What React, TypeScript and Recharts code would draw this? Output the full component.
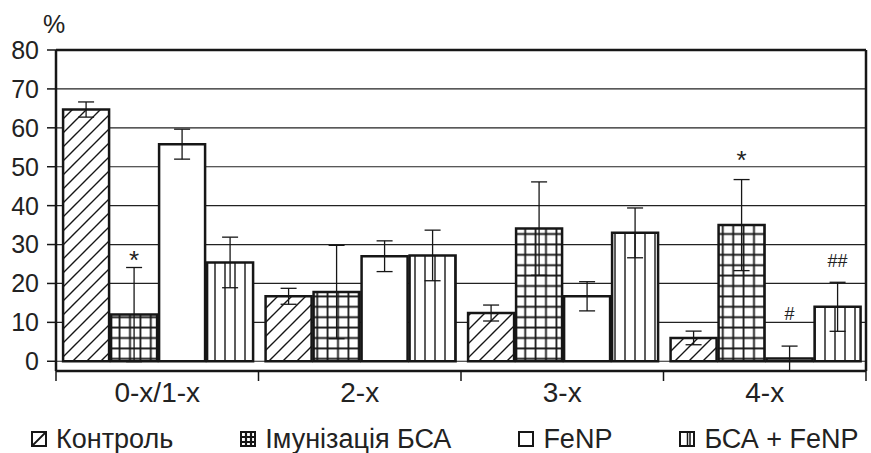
import React from 'react';
import { BarChart, Bar, XAxis, YAxis, CartesianGrid, ErrorBar, Legend, ReferenceLine } from 'recharts';

const categories = ['0-х/1-х', '2-х', '3-х', '4-х'];
const yTicks = [0, 10, 20, 30, 40, 50, 60, 70, 80];

const control = [64.7, 16.7, 12.4, 6.0];
const controlErr = [1.95, 2.05, 2.05, 1.75];
const immunization = [12.0, 17.8, 34.1, 35.0];
const immunizationErr = [12.1, 12.0, 12.0, 11.7];
const fenp = [55.8, 27.0, 16.7, 0.7];
const fenpErr = [3.85, 3.95, 3.75, 3.2];
const bsaFenp = [25.4, 27.2, 33.0, 14.0];
const bsaFenpErr = [6.5, 6.5, 6.4, 6.3];

// significance marks and the level (in %) where their baseline sits
const immunizationMarks = ['*', '', '', '*'];
const immunizationMarkLevels = [23.7, 0, 0, 49.5];
const fenpMarks = ['', '', '', '#'];
const fenpMarkLevels = [0, 0, 0, 10.7];
const bsaFenpMarks = ['', '', '', '##'];
const bsaFenpMarkLevels = [0, 0, 0, 24.2];

const data = categories.map((category, i) => ({
  category,
  control: control[i],
  controlErr: controlErr[i],
  immunization: immunization[i],
  immunizationErr: immunizationErr[i],
  fenp: fenp[i],
  fenpErr: fenpErr[i],
  bsaFenp: bsaFenp[i],
  bsaFenpErr: bsaFenpErr[i],
}));

const INK = '#161616';

const legendItems = [
  { name: 'Контроль', icon: 'hatch' },
  { name: 'Імунізація БСА', icon: 'grid' },
  { name: 'FeNP', icon: 'empty' },
  { name: 'БСА + FeNP', icon: 'vert' },
];

function markLabel(values: number[], marks: string[], levels: number[], fontSize: number) {
  return (props: any) => {
    const box = { ...props, ...(props.viewBox || {}) };
    const { x, y, width, height } = box;
    const index = props.index;
    const mark = marks[index];
    if (!mark) return null;
    const base = y + height;
    const perUnit = height / values[index];
    return (
      <text
        key={`m-${index}`}
        x={x + width / 2}
        y={base - levels[index] * perUnit}
        textAnchor="middle"
        fontSize={fontSize}
        fill="#222"
      >
        {mark}
      </text>
    );
  };
}

function CategoryTick(props: any) {
  const { x, y, payload, index, visibleTicksCount, width } = props;
  const half = payload.offset || width / visibleTicksCount / 2;
  return (
    <g>
      <line x1={x - half} x2={x - half} y1={y} y2={y + 10} stroke={INK} strokeWidth={1.5} />
      {index === visibleTicksCount - 1 && (
        <line x1={x + half} x2={x + half} y1={y} y2={y + 10} stroke={INK} strokeWidth={1.5} />
      )}
      <text x={x} y={y + 31} textAnchor="middle" fontSize={28} fill="#222">
        {payload.value}
      </text>
    </g>
  );
}

function LegendIcon({ kind }: { kind: string }) {
  return (
    <svg width={16} height={16} style={{ display: 'block' }}>
      <rect x={1} y={1} width={14} height={14} fill="#fff" stroke={INK} strokeWidth={2} />
      {kind === 'hatch' && <path d="M2,14 L14,2" stroke={INK} strokeWidth={1.8} />}
      {kind === 'grid' && (
        <path d="M6,1 V15 M11,1 V15 M1,6 H15 M1,11 H15" stroke={INK} strokeWidth={2.2} />
      )}
      {kind === 'vert' && <path d="M8.5,1 V15 M11,1 V15" stroke={INK} strokeWidth={1.5} />}
    </svg>
  );
}

function LegendContent() {
  return (
    <div style={{ display: 'flex', alignItems: 'center', gap: 67, paddingLeft: 31 }}>
      {legendItems.map((item) => (
        <div key={item.name} style={{ display: 'flex', alignItems: 'center', gap: 9 }}>
          <LegendIcon kind={item.icon} />
          <span style={{ fontSize: 27, color: '#222', lineHeight: '30px' }}>{item.name}</span>
        </div>
      ))}
    </div>
  );
}

export default function App() {
  return (
    <div style={{ fontFamily: '"Liberation Sans", Arial, sans-serif', width: 871, height: 453 }}>
      <style>{'body{margin:0}'}</style>
      <BarChart
        width={871}
        height={453}
        data={data}
        margin={{ top: 50, right: 0, bottom: 42, left: 0 }}
        barCategoryGap="3.5%"
        barGap={2}
      >
        <defs>
          <pattern id="pHatch" patternUnits="userSpaceOnUse" width={14} height={14}>
            <rect width={14} height={14} fill="#fff" />
            <path d="M0,14 L14,0 M-2,2 L2,-2 M12,16 L16,12" stroke={INK} strokeWidth={1.4} />
          </pattern>
          <pattern id="pGrid" patternUnits="userSpaceOnUse" width={10.4} height={10.4}>
            <rect width={10.4} height={10.4} fill="#fff" />
            <path d="M5.2,0 V10.4 M0,5.2 H10.4" stroke={INK} strokeWidth={1.8} />
          </pattern>
          <pattern id="pVert" patternUnits="userSpaceOnUse" width={10} height={10}>
            <rect width={10} height={10} fill="#fff" />
            <path d="M5,0 V10" stroke={INK} strokeWidth={1.4} />
          </pattern>
        </defs>
        <CartesianGrid yAxisId="left" vertical={false} stroke="#222" strokeWidth={1.2} />
        <XAxis
          dataKey="category"
          height={40}
          interval={0}
          tickLine={false}
          tickSize={0}
          tickMargin={0}
          axisLine={{ stroke: INK, strokeWidth: 2.5 }}
          tick={<CategoryTick />}
        />
        <YAxis
          yAxisId="left"
          width={56}
          domain={[0, 80]}
          ticks={yTicks}
          interval={0}
          tickSize={9}
          tickMargin={8}
          tickLine={{ stroke: INK, strokeWidth: 1.5 }}
          axisLine={{ stroke: INK, strokeWidth: 2.5 }}
          tick={{ fontSize: 25, fill: '#222' }}
          label={{ value: '%', position: 'top', offset: 17, dx: 26, fontSize: 25, fill: '#222' }}
        />
        <YAxis
          yAxisId="right"
          orientation="right"
          width={5}
          domain={[0, 80]}
          tick={false}
          tickLine={false}
          axisLine={{ stroke: INK, strokeWidth: 2.5 }}
        />
        <ReferenceLine yAxisId="left" y={yTicks[yTicks.length - 1]} stroke={INK} strokeWidth={2.5} />
        <Bar yAxisId="left" dataKey="control" name="Контроль" fill="url(#pHatch)" stroke={INK} strokeWidth={2.5} isAnimationActive={false}>
          <ErrorBar dataKey="controlErr" width={8} stroke={INK} strokeWidth={1.3} />
        </Bar>
        <Bar
          yAxisId="left"
          dataKey="immunization"
          name="Імунізація БСА"
          fill="url(#pGrid)"
          stroke={INK}
          strokeWidth={2.5}
          isAnimationActive={false}
          label={markLabel(immunization, immunizationMarks, immunizationMarkLevels, 26)}
        >
          <ErrorBar dataKey="immunizationErr" width={8} stroke={INK} strokeWidth={1.3} />
        </Bar>
        <Bar
          yAxisId="left"
          dataKey="fenp"
          name="FeNP"
          fill="#fff"
          stroke={INK}
          strokeWidth={2.5}
          isAnimationActive={false}
          label={markLabel(fenp, fenpMarks, fenpMarkLevels, 18)}
        >
          <ErrorBar dataKey="fenpErr" width={8} stroke={INK} strokeWidth={1.3} />
        </Bar>
        <Bar
          yAxisId="left"
          dataKey="bsaFenp"
          name="БСА + FeNP"
          fill="url(#pVert)"
          stroke={INK}
          strokeWidth={2.5}
          isAnimationActive={false}
          label={markLabel(bsaFenp, bsaFenpMarks, bsaFenpMarkLevels, 18)}
        >
          <ErrorBar dataKey="bsaFenpErr" width={8} stroke={INK} strokeWidth={1.3} />
        </Bar>
        <Legend
          layout="horizontal"
          verticalAlign="middle"
          align="center"
          wrapperStyle={{ top: 424, left: 0, width: 871, height: 30 }}
          content={<LegendContent />}
        />
      </BarChart>
    </div>
  );
}
